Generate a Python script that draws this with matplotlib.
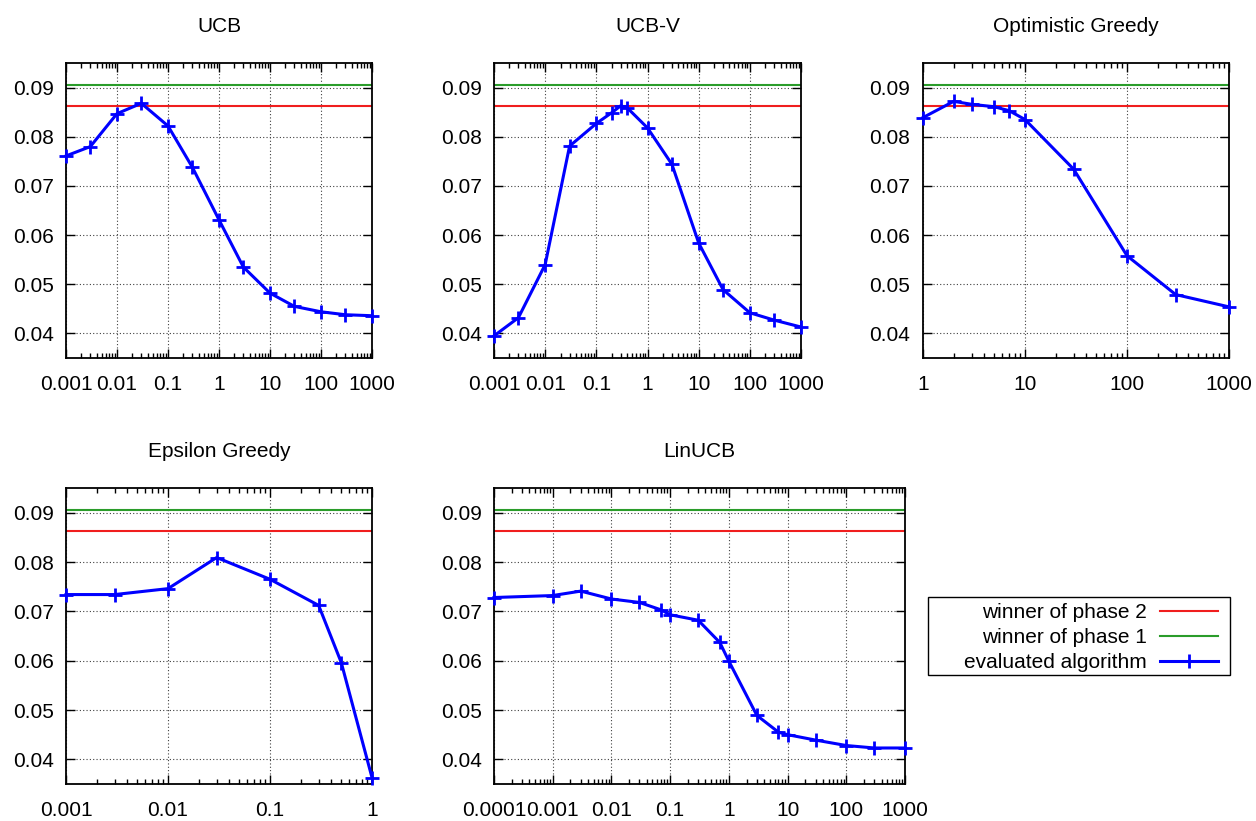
import numpy as np
import matplotlib
matplotlib.use("Agg")
import matplotlib.pyplot as plt
from matplotlib.patches import Rectangle
from matplotlib.ticker import LogLocator, FixedLocator, FixedFormatter, NullFormatter

plt.rcParams['font.family'] = ['Liberation Sans', 'DejaVu Sans']

# reference lines
winner_phase2 = 0.0863
winner_phase1 = 0.0906

# UCB
ucb_x = [0.001, 0.003, 0.01, 0.03, 0.1, 0.3, 1, 3, 10, 30, 100, 300, 1000]
ucb_y = [0.0761, 0.0780, 0.0847, 0.0868, 0.0822, 0.0738, 0.0631, 0.0535,
         0.0482, 0.0455, 0.0444, 0.0438, 0.0436]

# UCB-V
ucbv_x = [0.001, 0.003, 0.01, 0.03, 0.1, 0.2, 0.3, 0.4, 1, 3, 10, 30, 100, 300, 1000]
ucbv_y = [0.0395, 0.0432, 0.0540, 0.0781, 0.0827, 0.0849, 0.0863, 0.0859,
          0.0818, 0.0744, 0.0584, 0.0489, 0.0442, 0.0427, 0.0413]

# Optimistic Greedy
og_x = [1, 2, 3, 5, 7, 10, 30, 100, 300, 1000]
og_y = [0.0839, 0.0872, 0.0866, 0.0861, 0.0853, 0.0835, 0.0734, 0.0558, 0.0479, 0.0454]

# Epsilon Greedy
eg_x = [0.001, 0.003, 0.01, 0.03, 0.1, 0.3, 0.5, 1]
eg_y = [0.0734, 0.0734, 0.0746, 0.0809, 0.0765, 0.0712, 0.0596, 0.0363]

# LinUCB
lin_x = [0.0001, 0.001, 0.003, 0.01, 0.03, 0.07, 0.1, 0.3, 0.7, 1, 3, 7, 10,
         30, 100, 300, 1000]
lin_y = [0.0728, 0.0732, 0.0741, 0.0725, 0.0718, 0.0703, 0.0693, 0.0682, 0.0637,
         0.0599, 0.0489, 0.0455, 0.0450, 0.0439, 0.0428, 0.0423, 0.0423]

y_ticks = [0.04, 0.05, 0.06, 0.07, 0.08, 0.09]
y_labels = ["0.04", "0.05", "0.06", "0.07", "0.08", "0.09"]

W, H = 1256, 821
FS = 15


def px_axes(fig, left, top, right, bottom):
    return fig.add_axes([left / W, 1 - bottom / H, (right - left) / W, (bottom - top) / H])


def draw_panel(ax, title, x, y, xticks, xlabels):
    ax.axhline(winner_phase2, color="#f01e1e", lw=1.5, label="winner of phase 2", zorder=2)
    ax.axhline(winner_phase1, color="#2a9c2a", lw=1.5, label="winner of phase 1", zorder=2)
    ax.plot(x, y, color="#0000ff", lw=2.2, marker="+", ms=10, mew=2,
            label="evaluated algorithm", zorder=3, clip_on=False)
    ax.set_xscale("log")
    ax.set_xlim(xticks[0], xticks[-1])
    ax.set_ylim(0.035, 0.095)
    ax.xaxis.set_major_locator(FixedLocator(xticks))
    ax.xaxis.set_major_formatter(FixedFormatter(xlabels))
    ax.xaxis.set_minor_locator(LogLocator(base=10, subs=np.arange(2, 10), numticks=30))
    ax.xaxis.set_minor_formatter(NullFormatter())
    ax.set_yticks(y_ticks)
    ax.set_yticklabels(y_labels)
    ax.grid(True, which="major", color="0.25", ls=(0, (1, 2)), lw=0.8)
    ax.tick_params(which="both", direction="in", top=True, right=True, labelsize=FS)
    ax.tick_params(which="major", length=6.5, width=1)
    ax.tick_params(which="minor", length=3.3, width=1)
    ax.tick_params(axis="x", pad=12)
    ax.tick_params(axis="y", pad=9)
    for s in ax.spines.values():
        s.set_linewidth(1.3)
    ax.set_title(title, fontsize=FS, pad=22)


fig = plt.figure(figsize=(W / 100, H / 100), dpi=100)

ax1 = px_axes(fig, 66, 63, 372, 358)
draw_panel(ax1, "UCB", ucb_x, ucb_y,
           [0.001, 0.01, 0.1, 1, 10, 100, 1000],
           ["0.001", "0.01", "0.1", "1", "10", "100", "1000"])

ax2 = px_axes(fig, 494, 63, 801, 358)
draw_panel(ax2, "UCB-V", ucbv_x, ucbv_y,
           [0.001, 0.01, 0.1, 1, 10, 100, 1000],
           ["0.001", "0.01", "0.1", "1", "10", "100", "1000"])

ax3 = px_axes(fig, 923, 63, 1229, 358)
draw_panel(ax3, "Optimistic Greedy", og_x, og_y,
           [1, 10, 100, 1000], ["1", "10", "100", "1000"])

ax4 = px_axes(fig, 66, 488, 372, 784)
draw_panel(ax4, "Epsilon Greedy", eg_x, eg_y,
           [0.001, 0.01, 0.1, 1], ["0.001", "0.01", "0.1", "1"])

ax5 = px_axes(fig, 494, 488, 905, 784)
draw_panel(ax5, "LinUCB", lin_x, lin_y,
           [0.0001, 0.001, 0.01, 0.1, 1, 10, 100, 1000],
           ["0.0001", "0.001", "0.01", "0.1", "1", "10", "100", "1000"])

# gnuplot-style key: box drawn separately, entries right-aligned inside
fig.patches.append(Rectangle((928 / W, 1 - 675 / H), 302 / W, 78 / H,
                             transform=fig.transFigure, fill=False,
                             edgecolor="black", lw=1.0))
handles, labels = ax1.get_legend_handles_labels()
leg = fig.legend(handles, labels, loc="upper right",
                 bbox_to_anchor=(1222 / W, 1 - 599 / H), borderaxespad=0,
                 fontsize=FS, markerfirst=False, handlelength=2.8,
                 handletextpad=0.6, labelspacing=0.29, borderpad=0.2,
                 frameon=False)

fig.savefig("out.png", dpi=100)
